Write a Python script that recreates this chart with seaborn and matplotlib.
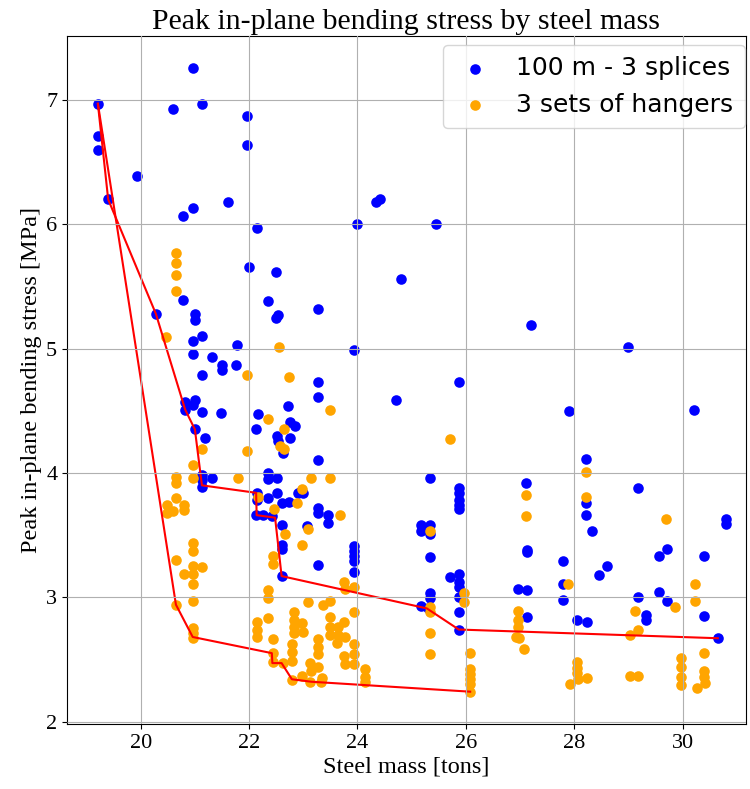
import matplotlib
matplotlib.use("Agg")
import matplotlib.pyplot as plt
import seaborn as sns
import pandas as pd

# ---- data: 100 m - 3 splices (blue) ----
splices_x = [19.21, 19.21, 19.21, 19.93, 19.40,
             20.96, 20.60, 21.13, 21.97, 21.97,
             20.78, 20.96, 21.62, 22.14, 21.99, 22.49,
             20.78, 20.28, 21.00, 21.00, 22.34, 22.53, 22.49,
             21.13, 20.96, 21.77, 20.96, 21.31, 21.50, 21.50, 21.76, 21.13,
             20.82, 21.00, 20.82, 20.97, 21.13, 21.49, 21.00, 21.19,
             22.17, 22.13, 22.71, 22.75, 22.85, 22.51, 22.54, 22.75, 22.63,
             22.35, 22.35, 22.51, 21.13, 21.13, 21.13, 21.31,
             22.14, 22.14, 22.35, 22.51, 22.60, 22.74, 22.91,
             22.13, 22.26, 22.42, 22.60,
             22.60, 22.60, 22.60, 23.07,
             23.28, 23.28, 23.28, 22.94, 23.00, 23.28, 23.28, 23.45, 23.45,
             24.72, 23.94, 23.94, 23.94, 23.94, 23.94, 23.28,
             25.18, 25.34, 25.18, 25.34, 25.34, 25.34, 25.34, 25.18, 25.30,
             25.87, 25.87, 25.87, 25.87, 25.87, 25.71, 25.87, 25.87, 25.87, 25.87, 25.87, 25.87,
             25.34, 24.34, 24.42, 24.00, 25.45, 24.81, 23.28, 23.94, 25.87,
             27.21, 28.99, 27.90, 30.21, 28.22, 27.11, 29.17,
             28.22, 28.22, 28.32, 30.80, 30.80, 27.12, 27.12, 27.80, 28.60, 28.46,
             29.72, 29.57, 30.39, 27.80, 27.80, 26.97, 27.12, 29.18, 29.57, 29.72,
             29.32, 29.32, 27.12, 28.06, 28.23, 30.39, 30.65]
splices_y = [6.97, 6.71, 6.60, 6.39, 6.20,
             7.26, 6.93, 6.97, 6.87, 6.64,
             6.07, 6.13, 6.18, 5.97, 5.66, 5.62,
             5.39, 5.28, 5.28, 5.23, 5.38, 5.27, 5.25,
             5.10, 5.06, 5.03, 4.96, 4.93, 4.87, 4.83, 4.87, 4.79,
             4.57, 4.59, 4.51, 4.55, 4.49, 4.48, 4.35, 4.28,
             4.47, 4.35, 4.54, 4.41, 4.38, 4.30, 4.26, 4.28, 4.16,
             4.00, 3.95, 3.96, 3.98, 3.94, 3.89, 3.96,
             3.84, 3.78, 3.80, 3.84, 3.76, 3.77, 3.84,
             3.66, 3.66, 3.65, 3.58,
             3.42, 3.39, 3.17, 3.57,
             4.73, 4.61, 4.10, 3.85, 3.84, 3.72, 3.68, 3.66, 3.60,
             4.59, 3.41, 3.37, 3.33, 3.29, 3.20, 3.26,
             3.58, 3.58, 3.53, 3.51, 3.32, 3.03, 2.99, 2.93, 2.91,
             3.88, 3.84, 3.78, 3.74, 3.71, 3.16, 3.19, 3.12, 3.08, 3.00, 2.88, 2.74,
             3.96, 6.18, 6.20, 6.00, 6.00, 5.56, 5.32, 4.99, 4.73,
             5.19, 5.01, 4.50, 4.51, 4.11, 3.92, 3.88,
             3.76, 3.66, 3.53, 3.63, 3.59, 3.38, 3.36, 3.29, 3.25, 3.18,
             3.39, 3.33, 3.33, 3.11, 2.98, 3.07, 3.06, 3.00, 3.04, 2.97,
             2.86, 2.82, 2.84, 2.82, 2.80, 2.85, 2.67]

# ---- data: 3 sets of hangers (orange) ----
hangers_x = [20.65, 20.65, 20.65, 20.65,
             20.47, 22.56, 21.97, 22.74, 23.49, 25.71,
             22.34, 22.65, 22.57, 22.65, 21.97, 21.14, 20.96,
             20.65, 20.65, 20.96, 21.80, 22.17, 22.46, 22.88, 22.97, 23.14, 23.49, 23.68, 23.09, 22.97, 22.66,
             20.65, 20.79, 20.79, 20.48, 20.48, 20.60,
             20.96, 20.96, 20.66, 20.96, 21.13, 20.96, 20.79, 20.96, 20.96, 20.65, 20.96, 20.96, 20.96,
             22.45, 22.45, 22.34, 22.34, 22.34, 22.15, 22.15, 22.15, 22.45,
             22.83, 22.83, 22.83, 22.83, 22.79, 22.79, 22.79, 22.45, 22.45, 22.63, 22.79,
             22.97, 23.00, 23.09,
             23.28, 23.28, 23.28, 23.12, 23.14, 23.28, 22.97, 23.12, 23.32, 23.34,
             23.37, 23.49, 23.49, 23.49, 23.49, 23.65, 23.65, 23.77, 23.76, 23.63,
             23.76, 23.77, 23.94, 23.94, 23.94, 23.94, 23.94, 23.76, 23.77,
             24.13, 24.13, 24.13,
             25.34, 25.34, 25.34, 25.34, 25.34,
             25.97, 25.97,
             26.08, 26.08, 26.08, 26.08, 26.08, 26.08,
             27.11, 27.11, 28.22, 28.22, 29.70, 27.89, 30.23, 30.23, 29.86, 29.13, 29.18, 29.03,
             26.97, 26.97, 26.97, 26.92, 26.98, 27.07,
             28.06, 28.06, 28.06, 28.23, 27.93, 28.07, 29.03, 29.18,
             29.97, 29.97, 29.97, 29.97, 30.39, 30.39, 30.39, 30.42, 30.26]
hangers_y = [5.77, 5.69, 5.59, 5.46,
             5.09, 5.01, 4.79, 4.77, 4.51, 4.27,
             4.43, 4.35, 4.22, 4.19, 4.18, 4.19, 4.06,
             3.97, 3.92, 3.96, 3.96, 3.81, 3.71, 3.76, 3.87, 3.96, 3.96, 3.66, 3.55, 3.42, 3.51,
             3.80, 3.74, 3.70, 3.74, 3.68, 3.69,
             3.44, 3.37, 3.30, 3.25, 3.24, 3.19, 3.19, 3.11, 2.97, 2.94, 2.75, 2.71, 2.67,
             3.33, 3.27, 3.06, 2.99, 2.83, 2.80, 2.74, 2.68, 2.66,
             2.88, 2.82, 2.76, 2.71, 2.62, 2.56, 2.49, 2.55, 2.48, 2.47, 2.33,
             2.79, 2.72, 2.96,
             2.66, 2.60, 2.54, 2.47, 2.41, 2.44, 2.37, 2.32, 2.32, 2.35,
             2.94, 2.97, 2.84, 2.76, 2.70, 2.76, 2.70, 2.68, 2.80, 2.63,
             3.12, 3.07, 3.08, 2.88, 2.62, 2.54, 2.46, 2.53, 2.46,
             2.42, 2.36, 2.32,
             3.53, 2.92, 2.88, 2.71, 2.54,
             3.03, 2.96,
             2.55, 2.42, 2.38, 2.34, 2.30, 2.24,
             3.82, 3.65, 4.01, 3.81, 3.63, 3.11, 3.11, 2.97, 2.92, 2.89, 2.74, 2.70,
             2.89, 2.82, 2.76, 2.68, 2.67, 2.58,
             2.48, 2.43, 2.39, 2.35, 2.30, 2.34, 2.37, 2.37,
             2.51, 2.44, 2.36, 2.29, 2.55, 2.41, 2.36, 2.31, 2.27]

# ---- front lines (red) ----
front_splices_x = [19.21, 19.40, 20.28, 20.82, 21.00, 21.13, 22.13, 22.14, 22.48, 22.60, 25.28, 25.87, 30.65]
front_splices_y = [6.97, 6.20, 5.28, 4.51, 4.35, 3.90, 3.84, 3.66, 3.64, 3.17, 2.91, 2.74, 2.67]
front_hangers_x = [19.21, 20.65, 20.96, 22.42, 22.43, 22.60, 22.79, 23.15, 26.08]
front_hangers_y = [6.97, 2.94, 2.68, 2.55, 2.47, 2.47, 2.34, 2.32, 2.24]

labels = ["100 m - 3 splices", "3 sets of hangers"]
title = "Peak in-plane bending stress by steel mass"
xlabel = "Steel mass [tons]"
ylabel = "Peak in-plane bending stress [MPa]"

serif = ["Liberation Serif", "DejaVu Serif"]

fig = plt.figure(figsize=(7.5, 7.89), dpi=100)
ax = fig.add_axes([67 / 750, 1 - 724 / 789, (746 - 67) / 750, (724 - 36) / 789])

df_s = pd.DataFrame({"x": splices_x, "y": splices_y})
df_h = pd.DataFrame({"x": hangers_x, "y": hangers_y})

sns.scatterplot(data=df_s, x="x", y="y", color="blue", s=58, linewidth=0,
                label=labels[0], ax=ax, zorder=1)
sns.scatterplot(data=df_h, x="x", y="y", color="orange", s=58, linewidth=0,
                label=labels[1], ax=ax, zorder=1)

sns.lineplot(x=front_splices_x, y=front_splices_y, sort=False, estimator=None,
             color="red", linewidth=1.5, ax=ax, zorder=2)
sns.lineplot(x=front_hangers_x, y=front_hangers_y, sort=False, estimator=None,
             color="red", linewidth=1.5, ax=ax, zorder=2)

ax.grid(True, color="#b0b0b0", linewidth=0.8)
ax.set_axisbelow(False)
ax.set_xticks([20, 22, 24, 26, 28, 30])
ax.set_yticks([2, 3, 4, 5, 6, 7])
ax.set_xlim(18.64, 31.17)
ax.set_ylim(1.98, 7.515)
for lab in ax.get_xticklabels() + ax.get_yticklabels():
    lab.set_fontfamily(serif)
    lab.set_fontsize(16)

ax.set_title(title, fontsize=21.5, family=serif, pad=5)
ax.set_xlabel(xlabel, fontsize=17.5, family=serif, labelpad=3)
ax.set_ylabel(ylabel, fontsize=17.5, family=serif, labelpad=3)

leg = ax.legend(loc="upper right", bbox_to_anchor=(0.998, 0.987),
                prop={"family": "DejaVu Sans", "size": 18},
                markerscale=1.0, handletextpad=0.8, borderaxespad=0.0,
                borderpad=0.45, handlelength=1.7)

fig.savefig("out.png", dpi=100)
